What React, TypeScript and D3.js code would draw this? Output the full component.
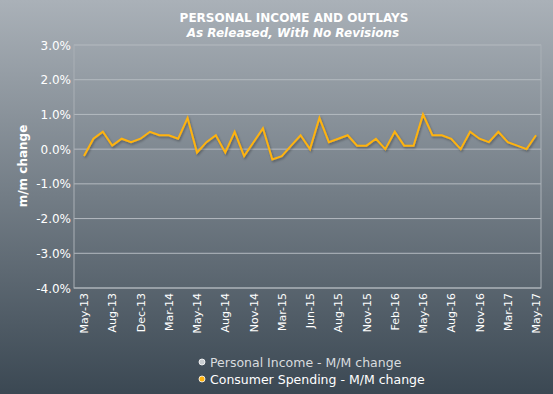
import React, { useEffect, useRef } from 'react'
import * as d3 from 'd3'

// consumer spending m/m change, as released (%), May-13 .. May-17
const spending = [
  -0.2, 0.3, 0.5, 0.1, 0.3, 0.2, 0.3, 0.5, 0.4, 0.4, 0.3, 0.9, -0.1, 0.2, 0.4, -0.1, 0.5,
  -0.2, 0.2, 0.6, -0.3, -0.2, 0.1, 0.4, 0.0, 0.9, 0.2, 0.3, 0.4, 0.1, 0.1, 0.3, 0.0, 0.5,
  0.1, 0.1, 1.0, 0.4, 0.4, 0.3, 0.0, 0.5, 0.3, 0.2, 0.5, 0.2, 0.1, 0.0, 0.4,
]
// label shown on every third release
const tickLabels = [
  'May-13', 'Aug-13', 'Dec-13', 'Mar-14', 'May-14', 'Aug-14', 'Nov-14', 'Mar-15', 'Jun-15',
  'Aug-15', 'Nov-15', 'Feb-16', 'May-16', 'Aug-16', 'Nov-16', 'Mar-17', 'May-17',
]
const yTicks = [3, 2, 1, 0, -1, -2, -3, -4]
const seriesNames = ['Personal Income - M/M change', 'Consumer Spending - M/M change']
const seriesColors = ['#c9cdd1', '#ffb30f']

const W = 553
const H = 394
const margin = { left: 74, right: 12, top: 45, bottom: 106 }

const App = () => {
  const ref = useRef<SVGSVGElement>(null)

  useEffect(() => {
    if (!ref.current) return
    const svg = d3.select(ref.current)
    svg.selectAll('*').remove()

    const defs = svg.append('defs')
    const grad = defs.append('linearGradient').attr('id', 'bg').attr('x1', 0).attr('y1', 0).attr('x2', 0).attr('y2', 1)
    grad.append('stop').attr('offset', '0%').attr('stop-color', '#aab1b8')
    grad.append('stop').attr('offset', '100%').attr('stop-color', '#3b4853')
    const shadow = defs.append('filter').attr('id', 'sh')
    shadow.append('feDropShadow').attr('dx', 1).attr('dy', 1.5).attr('stdDeviation', 1)
      .attr('flood-color', '#000').attr('flood-opacity', 0.35)

    svg.append('rect').attr('width', W).attr('height', H).attr('fill', 'url(#bg)')

    const x = d3.scalePoint<number>()
      .domain(d3.range(spending.length))
      .range([margin.left + 10, W - margin.right - 5])
    const y = d3.scaleLinear().domain([-4, 3]).range([H - margin.bottom, margin.top])

    const font = 'Tahoma, "DejaVu Sans", Verdana, sans-serif'

    // title
    svg.append('text').attr('x', 294).attr('y', 22).attr('text-anchor', 'middle')
      .attr('fill', '#fff').style('font', `bold 12px ${font}`)
      .text('PERSONAL INCOME AND OUTLAYS')
    svg.append('text').attr('x', 293).attr('y', 37).attr('text-anchor', 'middle')
      .attr('fill', '#fff').style('font', `italic bold 12px ${font}`)
      .text('As Released, With No Revisions')

    // gridlines
    svg.append('g').selectAll('line').data(yTicks).join('line')
      .attr('x1', margin.left).attr('x2', W - margin.right)
      .attr('y1', d => y(d)).attr('y2', d => y(d))
      .attr('stroke', '#b4bac0').attr('stroke-width', 1)

    // plot frame
    svg.append('rect')
      .attr('x', margin.left).attr('y', margin.top)
      .attr('width', W - margin.right - margin.left).attr('height', y(-4) - margin.top)
      .attr('fill', 'none').attr('stroke', '#a9b0b6')

    // y labels
    svg.append('g').selectAll('text').data(yTicks).join('text')
      .attr('x', 71).attr('y', d => y(d) + 4.5).attr('text-anchor', 'end')
      .attr('fill', '#fff').style('font', `12px ${font}`)
      .text(d => d.toFixed(1) + '%')

    svg.append('text')
      .attr('transform', 'translate(27,166) rotate(-90)').attr('text-anchor', 'middle')
      .attr('fill', '#fff').style('font', `bold 12px ${font}`)
      .text('m/m change')

    // x labels, every 3rd category
    svg.append('g').selectAll('text').data(tickLabels).join('text')
      .attr('transform', (d, i) => `translate(${x(i * 3)! + 4},${y(-4) + 5}) rotate(-90)`)
      .attr('text-anchor', 'end')
      .attr('fill', '#fff').style('font', `11px ${font}`)
      .text(d => d)

    // line
    const line = d3.line<number>().x((d, i) => x(i)!).y(d => y(d))
    svg.append('path').datum(spending)
      .attr('d', line)
      .attr('fill', 'none').attr('stroke', seriesColors[1]).attr('stroke-width', 2)
      .attr('stroke-linejoin', 'miter').attr('filter', 'url(#sh)')

    // legend
    const lg = svg.append('g').selectAll('g').data(seriesNames).join('g')
      .attr('transform', (d, i) => `translate(202,${362 + i * 17})`)
    lg.append('circle').attr('r', 3).attr('cx', 0).attr('cy', 0)
      .attr('fill', (d, i) => seriesColors[i]).attr('stroke', '#fff').attr('stroke-width', 0.8)
    lg.append('text').attr('x', 8).attr('y', 5)
      .attr('fill', (d, i) => i === 0 ? '#d9dcdf' : '#fff')
      .style('font', `12.5px ${font}`)
      .text(d => d)
  }, [])

  return <svg ref={ref} width={W} height={H} style={{ position: 'absolute', left: 0, top: 0 }} />
}

export default App
